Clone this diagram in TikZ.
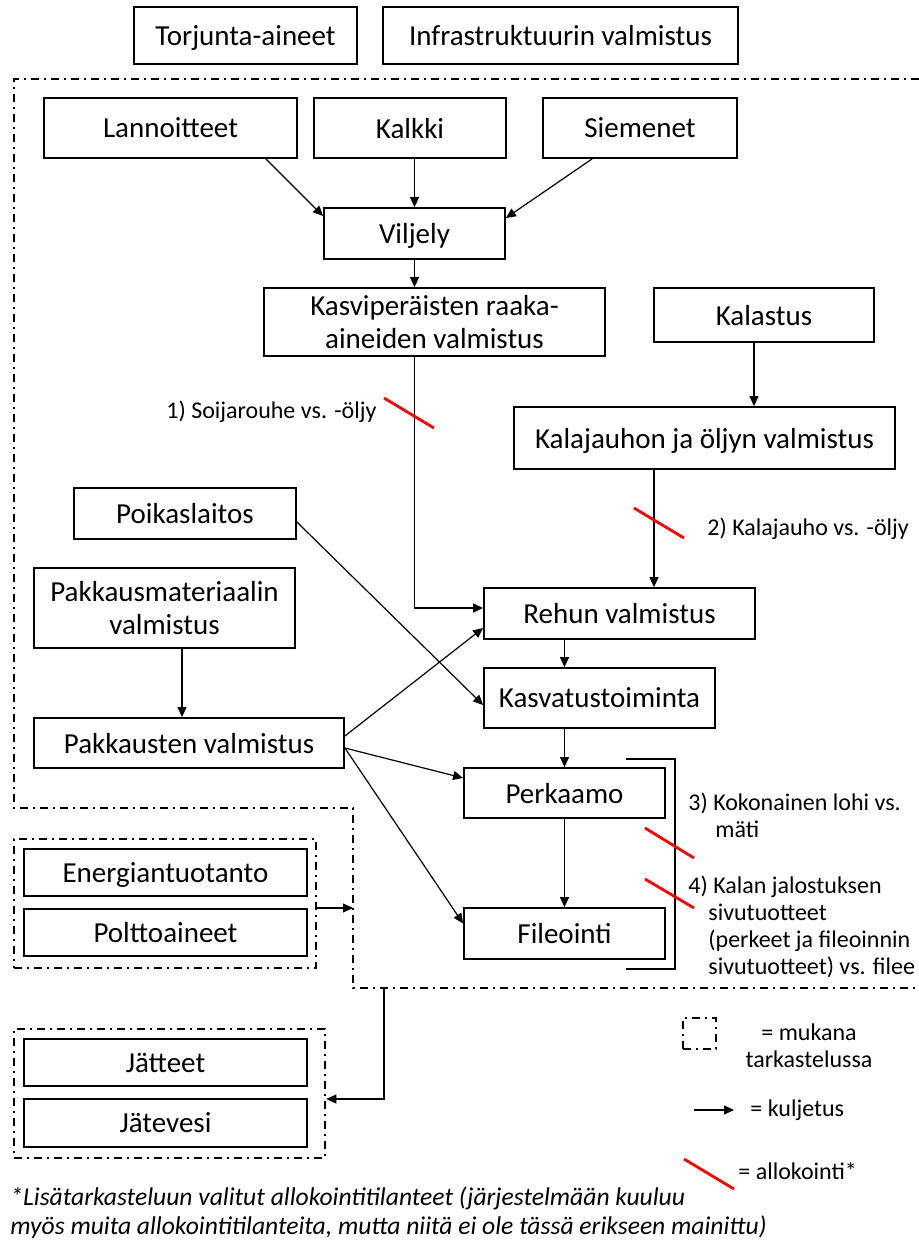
\documentclass[tikz,border=0pt]{standalone}
\usepackage{fontspec}
\setmainfont{Carlito}
\usetikzlibrary{arrows.meta}

\begin{document}
\begin{tikzpicture}[x=0.5pt, y=-0.5pt,
    box/.style={draw, line width=0.9pt, inner sep=0pt, align=center, text depth=0pt, font=\fontsize{14.5}{16.5}\selectfont},
    grp/.style={draw, line width=1.25pt, dash pattern=on 4pt off 2.5pt on 1pt off 2.5pt, inner sep=0pt},
    arr/.style={-{Triangle[length=5pt,width=4.5pt]}, line width=0.6pt},
    alloc/.style={red, line width=1.4pt},
    lbl/.style={inner sep=0pt, align=left, font=\fontsize{12}{13.5}\selectfont}]

    \useasboundingbox (0,0) rectangle (919,1241);

    \node[box, minimum width=111.5pt, minimum height=28.5pt] (torj) at (245.5,35.5) {Torjunta-aineet};
    \node[box, minimum width=177.5pt, minimum height=28.5pt] (infra) at (560.5,35.5) {Infrastruktuurin valmistus};

    \draw[grp] (919,79) -- (14,79) -- (14,808) -- (353,808) -- (353,988) -- (919,988);

    \node[box, minimum width=126.5pt, minimum height=30pt] (lann) at (170.5,128) {Lannoitteet};
    \node[box, minimum width=96pt, minimum height=30pt] (kalkki) at (410,128) {Kalkki};
    \node[box, minimum width=97pt, minimum height=30pt] (siem) at (640,128) {Siemenet};
    \node[box, minimum width=90.5pt, minimum height=25.5pt] (vilj) at (414.5,233.5) {Viljely};
    \node[box, minimum width=170.5pt, minimum height=34pt] (kasvi) at (434.5,322) {Kasviperäisten raaka-\\aineiden valmistus};
    \node[box, minimum width=110pt, minimum height=27pt] (kalas) at (764,315) {Kalastus};
    \node[box, minimum width=190.5pt, minimum height=31pt] (kjauho) at (704.5,438) {Kalajauhon ja öljyn valmistus};
    \node[box, minimum width=111pt, minimum height=25.5pt] (poik) at (185,513.5) {Poikaslaitos};
    \node[box, minimum width=130.5pt, minimum height=40pt] (pmat) at (164.5,608) {Pakkausmateriaalin\\valmistus};
    \node[box, minimum width=155pt, minimum height=25pt] (pakk) at (189,743) {Pakkausten valmistus};
    \node[box, minimum width=135.5pt, minimum height=25.5pt] (rehu) at (619.5,613.5) {Rehun valmistus};
    \node[box, minimum width=115.5pt, minimum height=30pt] (kasvat) at (599.5,698) {Kasvatustoiminta};
    \node[box, minimum width=100.5pt, minimum height=25pt] (perk) at (564.5,793) {Perkaamo};
    \node[box, minimum width=100.5pt, minimum height=25.5pt] (file) at (564.5,933.5) {Fileointi};

    \node[box, minimum width=141.5pt, minimum height=23.5pt] (energ) at (165.5,872.5) {Energiantuotanto};
    \node[box, minimum width=141.5pt, minimum height=23.5pt] (poltt) at (165.5,932.5) {Polttoaineet};
    \node[grp, minimum width=151pt, minimum height=64.5pt] (egrp) at (165,903.5) {};
    \node[box, minimum width=141.5pt, minimum height=23.5pt] (jatt) at (165.5,1062.5) {Jätteet};
    \node[box, minimum width=141.5pt, minimum height=24pt] (jatev) at (165.5,1123) {Jätevesi};
    \node[grp, minimum width=155.5pt, minimum height=64.5pt] (jgrp) at (169.5,1093.5) {};

    \draw[arr] ([xshift=-16pt]lann.south east) -- ([yshift=8.75pt]vilj.west);
    \draw[arr] (vilj.north |- kalkki.south) -- (vilj.north);
    \draw[arr] ([xshift=25pt]siem.south west) -- ([yshift=7.75pt]vilj.east);
    \draw[arr] (vilj.south) -- (vilj.south |- kasvi.north);
    \draw[arr] (vilj.south |- kasvi.south) |- ([yshift=2.75pt]rehu.west);
    \draw[arr] ([xshift=-5pt]kalas.south) -- ([xshift=-5pt]kalas.south |- kjauho.north);
    \draw[arr] ([xshift=17.25pt]rehu.north |- kjauho.south) -- ([xshift=17.25pt]rehu.north);
    \draw[arr] (perk.north |- rehu.south) -- (perk.north |- kasvat.north);
    \draw[arr] (perk.north |- kasvat.south) -- (perk.north);
    \draw[arr] (perk.south) -- (file.north);
    \draw[arr] ([yshift=-4.25pt]poik.east) -- ([yshift=-3.5pt]kasvat.west);
    \draw[arr] ([xshift=8.75pt]pmat.south) -- ([xshift=8.75pt]pmat.south |- pakk.north);
    \draw[arr] ([yshift=3.5pt]pakk.east) -- ([yshift=-7.25pt]rehu.west);
    \draw[arr] ([yshift=-2.5pt]pakk.east) -- ([yshift=7.5pt]perk.west);
    \draw[arr] ([yshift=-2.5pt]pakk.east) -- ([yshift=5pt]file.west);

    \coordinate (bnd1) at (353,908);
    \coordinate (bnd2) at (384,988);
    \draw[arr] (egrp.east |- bnd1) -- (bnd1);
    \draw[arr] (bnd2) |- ([yshift=-2.75pt]jgrp.east);

    \draw[line width=0.6pt] (626,759) -| (675,969) -- (626,969);

    \draw[alloc] (384,398) -- (434,428);
    \draw[alloc] (634,508) -- (684,538);
    \draw[alloc] (645,828) -- (694,858);
    \draw[alloc] (645,879) -- (694,908);
    \draw[alloc] (684,1159) -- (734,1189);

    \node[lbl, anchor=west] (lbl1) at (166,412) {1) Soijarouhe vs. -öljy};
    \node[lbl, anchor=west] (lbl2) at (707,529) {2) Kalajauho vs. -öljy};
    \node[lbl, anchor=north west] (lbl3) at (688,793) {3) Kokonainen lohi vs.\\\hspace*{13.5pt}mäti};
    \node[lbl, anchor=north west] (lbl4) at (688,876) {4) Kalan jalostuksen\\\hspace*{10pt}sivutuotteet\\\hspace*{10pt}(perkeet ja fileoinnin\\\hspace*{10pt}sivutuotteet) vs. filee};

    \node[grp, minimum width=16.5pt, minimum height=15.5pt] (legbox) at (699.5,1033.5) {};
    \node[lbl, align=center] (leg1) at (809,1046) {= mukana\\tarkastelussa};
    \node[lbl, anchor=west] (leg2) at (750,1110) {= kuljetus};
    \draw[arr] ([xshift=-28pt]leg2.west) -- ([xshift=-8pt]leg2.west);
    \node[lbl, anchor=west] (leg3) at (738,1171) {= allokointi*};

    \node[lbl, anchor=west, font=\itshape\fontsize{12.8}{14.5}\selectfont] (note) at (10,1213) {*Lisätarkasteluun valitut allokointitilanteet (järjestelmään kuuluu\\myös muita allokointitilanteita, mutta niitä ei ole tässä erikseen mainittu)};

\end{tikzpicture}
\end{document}
